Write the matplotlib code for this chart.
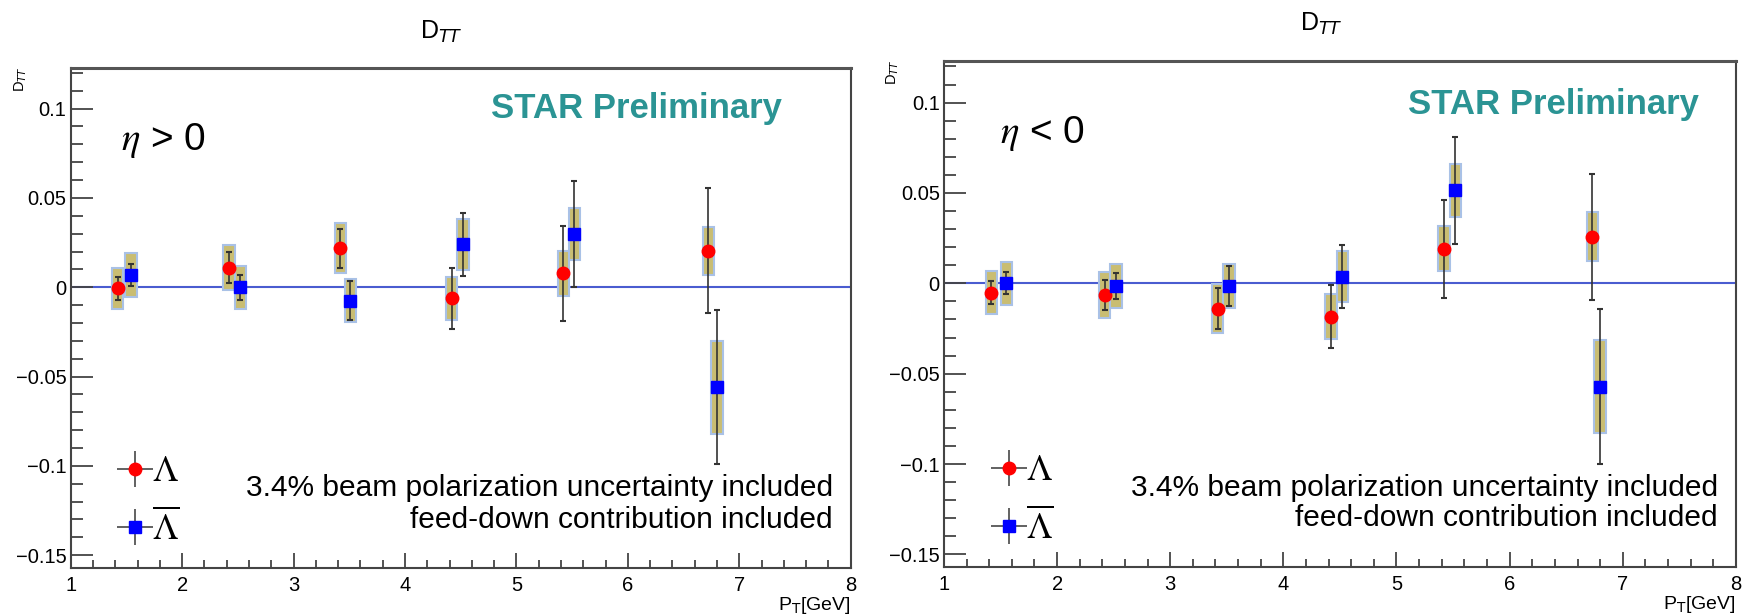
import numpy as np
import matplotlib.pyplot as plt
from matplotlib.ticker import MultipleLocator, FuncFormatter

plt.rcParams['font.family'] = ['Liberation Sans', 'DejaVu Sans']
plt.rcParams['mathtext.fontset'] = 'stix'

# eta > 0
pos_lam_pt = [1.42, 2.42, 3.42, 4.42, 5.42, 6.72]
pos_lam_dtt = [-0.0005, 0.011, 0.0218, -0.0062, 0.0078, 0.0205]
pos_lam_stat = [0.0065, 0.0088, 0.011, 0.017, 0.0266, 0.0348]
pos_lam_sys = [0.0115, 0.0124, 0.014, 0.012, 0.0125, 0.0134]

pos_alam_pt = [1.54, 2.52, 3.51, 4.52, 5.52, 6.80]
pos_alam_dtt = [0.0069, 0.0, -0.0075, 0.024, 0.0297, -0.0559]
pos_alam_stat = [0.006, 0.007, 0.011, 0.0175, 0.0295, 0.0433]
pos_alam_sys = [0.0122, 0.012, 0.012, 0.0144, 0.0145, 0.026]

# eta < 0
neg_lam_pt = [1.42, 2.42, 3.42, 4.42, 5.42, 6.73]
neg_lam_dtt = [-0.0051, -0.0064, -0.014, -0.0184, 0.0191, 0.0257]
neg_lam_stat = [0.0066, 0.0082, 0.0113, 0.0173, 0.027, 0.035]
neg_lam_sys = [0.012, 0.0126, 0.0134, 0.0125, 0.0124, 0.0136]

neg_alam_pt = [1.55, 2.52, 3.52, 4.52, 5.52, 6.80]
neg_alam_dtt = [0.0, -0.0015, -0.0015, 0.0037, 0.0514, -0.0572]
neg_alam_stat = [0.006, 0.007, 0.011, 0.0175, 0.0295, 0.0428]
neg_alam_sys = [0.012, 0.012, 0.012, 0.014, 0.0147, 0.0256]

notes = ["3.4% beam polarization uncertainty included",
         "feed-down contribution included"]

box_fill = '#c9bd72'
box_edge = '#a9c1e6'
err_col = '#333333'


def draw_points(ax, pt, dtt, stat, sys, marker, color, ms):
    pt = np.array(pt)
    dtt = np.array(dtt)
    sys = np.array(sys)
    ax.bar(pt, 2 * sys, bottom=dtt - sys, width=0.1, color=box_fill,
           edgecolor=box_edge, linewidth=1.5, zorder=2)
    ax.errorbar(pt, dtt, yerr=stat, fmt='none', ecolor=err_col,
                elinewidth=1.2, capsize=2.5, capthick=1.5, zorder=3)
    ax.plot(pt, dtt, marker, color=color, ms=ms, zorder=4)


def panel(fig, rect, lam, alam, eta_txt, star_xy, eta_xy, note_x, note_y):
    ax = fig.add_axes(rect)
    ax.axhline(0, color='#4a5cd0', lw=1.5, zorder=1)
    draw_points(ax, *lam, 'o', 'red', 9)
    draw_points(ax, *alam, 's', 'blue', 8.5)

    ax.set_xlim(1, 8)
    ax.set_ylim(-0.157, 0.123)
    ax.xaxis.set_major_locator(MultipleLocator(1))
    ax.xaxis.set_minor_locator(MultipleLocator(0.2))
    ax.yaxis.set_major_locator(MultipleLocator(0.05))
    ax.yaxis.set_minor_locator(MultipleLocator(0.01))
    ax.yaxis.set_major_formatter(FuncFormatter(
        lambda v, p: ('%g' % round(v, 3)).replace('-', '\u2212')))
    ax.tick_params(which='both', direction='in', top=False, right=False,
                   labelsize=14.5, width=1.3, color='#444444')
    ax.tick_params(axis='y', which='major', length=16, pad=3)
    ax.tick_params(axis='y', which='minor', length=8.5)
    ax.tick_params(axis='x', which='major', length=11, pad=6)
    ax.tick_params(axis='x', which='minor', length=5.5)
    for s in ax.spines.values():
        s.set_linewidth(1.5)
        s.set_color('#444444')
    ax.spines['top'].set_linewidth(2.2)
    ax.spines['top'].set_color('#555555')

    ax.text(*star_xy, 'STAR Preliminary', transform=ax.transAxes,
            ha='center', va='center', fontsize=25, fontweight='bold',
            color='#2b9494')
    ax.text(*eta_xy, eta_txt, transform=ax.transAxes, ha='left',
            va='center', fontsize=28)
    ax.text(note_x, note_y[0], notes[0], transform=ax.transAxes,
            ha='right', va='center', fontsize=21.5)
    ax.text(note_x, note_y[1], notes[1], transform=ax.transAxes,
            ha='right', va='center', fontsize=21.5)
    ax.text(1.0, -0.075, r'P$_{\rm T}$[GeV]', transform=ax.transAxes,
            ha='right', va='center', fontsize=14, math_fontfamily='dejavusans')

    h1 = ax.errorbar([], [], xerr=[], yerr=[], fmt='o', color='red',
                     ecolor='#555555', ms=9, elinewidth=1.3)
    h2 = ax.errorbar([], [], xerr=[], yerr=[], fmt='s', color='blue',
                     ecolor='#555555', ms=8.5, elinewidth=1.3)
    ax.legend([h1, h2], [r'$\Lambda$', r'$\overline{\Lambda}$'],
              loc='lower left', bbox_to_anchor=(0.066, 0.04),
              frameon=False, fontsize=26, handlelength=0.7,
              handletextpad=0.12, labelspacing=0.55, borderpad=0,
              borderaxespad=0)
    return ax


fig = plt.figure(figsize=(17.52, 6.16), dpi=100)

panel(fig, [0.0404, 0.0784, 0.4452, 0.812],
      (pos_lam_pt, pos_lam_dtt, pos_lam_stat, pos_lam_sys),
      (pos_alam_pt, pos_alam_dtt, pos_alam_stat, pos_alam_sys),
      r'$\eta$ > 0', (0.725, 0.918), (0.065, 0.855), 0.977, (0.159, 0.096))
panel(fig, [0.5388, 0.0795, 0.452, 0.8214],
      (neg_lam_pt, neg_lam_dtt, neg_lam_stat, neg_lam_sys),
      (neg_alam_pt, neg_alam_dtt, neg_alam_stat, neg_alam_sys),
      r'$\eta$ < 0', (0.770, 0.915), (0.071, 0.856), 0.977, (0.156, 0.096))

for x, y in [(0.252, 0.948), (0.754, 0.962)]:
    fig.text(x, y, r'D$_{TT}$', ha='center', va='center', fontsize=18,
             math_fontfamily='dejavusans')
for x, y in [(21 / 1752, 0.893), (893 / 1752, 0.904)]:
    fig.text(x, y, r'D$_{TT}$', ha='center', va='top', rotation=90,
             fontsize=10.5, math_fontfamily='dejavusans')

fig.savefig('out.png', dpi=100)
